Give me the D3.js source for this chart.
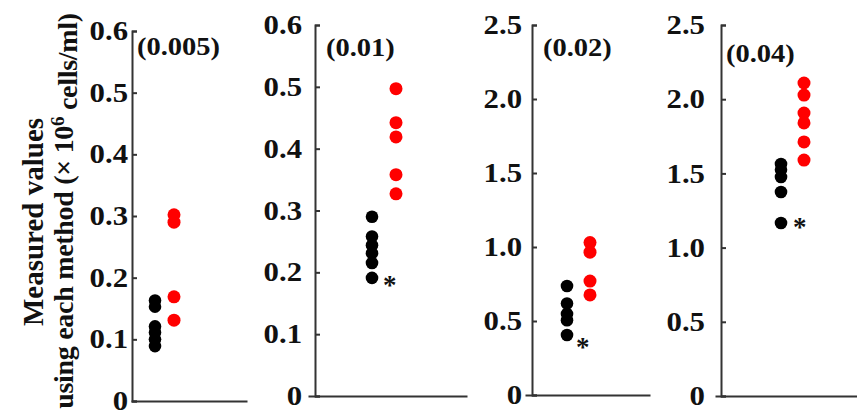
<!DOCTYPE html>
<html>
<head>
<meta charset="utf-8">
<script src="https://cdn.jsdelivr.net/npm/d3@7"></script>
<style>
    body { margin: 0; background: #fff; }
    text { font-family: "Liberation Serif", "Times New Roman", serif; font-weight: bold; fill: #111; }
</style>
</head>
<body>
<div id="chart"></div>
<script>
// dilution of each panel
const dilutions = ["(0.005)", "(0.01)", "(0.02)", "(0.04)"];

// black dots (reference method)
const blackValues = [
    [0.163, 0.153, 0.121, 0.111, 0.100, 0.089],
    [0.290, 0.258, 0.244, 0.231, 0.215, 0.191],
    [0.736, 0.618, 0.548, 0.505, 0.405],
    [1.563, 1.525, 1.476, 1.375, 1.166]
];

// red dots (second method)
const redValues = [
    [0.302, 0.290, 0.169, 0.131],
    [0.497, 0.442, 0.419, 0.358, 0.327],
    [1.030, 0.965, 0.770, 0.676],
    [2.109, 2.028, 1.907, 1.840, 1.712, 1.590]
];

const yMax = [0.6, 0.6, 2.5, 2.5];
const ticksSmall = [0, 0.1, 0.2, 0.3, 0.4, 0.5, 0.6];
const ticksLarge = [0, 0.5, 1.0, 1.5, 2.0, 2.5];
const panelTicks = [ticksSmall, ticksSmall, ticksLarge, ticksLarge];
const showStar = [false, true, true, true];

// layout of each panel (pixels)
const layout = [
    {ax: 132, y0: 401, yTop: 31, xStart: 131, xEnd: 247, dots: [155, 174], gap: 4,  tx: 137, ty: 46, sdx: 0,  sdy: 0},
    {ax: 315, y0: 396, yTop: 25, xStart: 308, xEnd: 467, dots: [372, 396], gap: 13, tx: 326, ty: 47, sdx: 11, sdy: 16},
    {ax: 532, y0: 395, yTop: 25, xStart: 525, xEnd: 650, dots: [567, 590], gap: 10, tx: 543, ty: 47, sdx: 9,  sdy: 21},
    {ax: 721, y0: 396, yTop: 25, xStart: 715, xEnd: 860, dots: [781, 804], gap: 16, tx: 726, ty: 53, sdx: 12, sdy: 13}
];

const width = 857, height = 410;
const stretch = 1.14;   // glyphs in the figure are a bit wide

const svg = d3.select("#chart").append("svg")
    .attr("width", width)
    .attr("height", height);

const fmt = d => d === 0 ? "0" : d3.format(".1f")(d);

dilutions.forEach((label, i) => {
    const L = layout[i];
    const g = svg.append("g");

    const y = d3.scaleLinear()
        .domain([0, yMax[i]])
        .range([L.y0, L.yTop]);

    const x = d3.scalePoint()
        .domain(["black", "red"])
        .range(L.dots);

    // y axis, ticks pointing inward
    const yAxis = d3.axisLeft(y)
        .tickValues(panelTicks[i])
        .tickFormat(fmt)
        .tickSize(-5)
        .tickPadding(L.gap);

    const ya = g.append("g")
        .attr("transform", `translate(${L.ax},0)`)
        .call(yAxis);
    ya.selectAll("path, line").attr("stroke", "#333").attr("stroke-width", 2);
    ya.selectAll("text")
        .attr("fill", "#111")
        .attr("x", -L.gap / stretch)
        .attr("transform", `scale(${stretch},1)`)
        .style("font-size", "27px")
        .style("font-family", "Liberation Serif, serif")
        .style("font-weight", "bold");

    // x axis: plain line, no ticks
    const xLine = d3.scaleLinear().range([L.xStart, L.xEnd]);
    const xa = g.append("g")
        .attr("transform", `translate(0,${L.y0})`)
        .call(d3.axisBottom(xLine).ticks(0).tickSizeOuter(0));
    xa.select("path").attr("stroke", "#333").attr("stroke-width", 2);

    // panel title
    g.append("text")
        .attr("transform", `translate(${L.tx},${L.ty}) scale(${stretch},1)`)
        .attr("dy", "0.35em")
        .style("font-size", "25px")
        .text(label);

    g.selectAll(".black-dot")
        .data(blackValues[i])
        .join("circle")
        .attr("class", "black-dot")
        .attr("cx", x("black"))
        .attr("cy", d => y(d))
        .attr("r", 6.3)
        .attr("fill", "#000");

    g.selectAll(".red-dot")
        .data(redValues[i])
        .join("circle")
        .attr("class", "red-dot")
        .attr("cx", x("red"))
        .attr("cy", d => y(d))
        .attr("r", 6.5)
        .attr("fill", "#ff0000");

    if (showStar[i]) {
        const low = d3.min(blackValues[i]);
        g.append("text")
            .attr("x", x("black") + L.sdx)
            .attr("y", y(low) + L.sdy)
            .style("font-size", "27px")
            .text("*");
    }
});

// y axis title, two lines
const title = svg.append("g")
    .attr("transform", "rotate(-90)");

title.append("text")
    .attr("x", -222)
    .attr("y", 33)
    .attr("dy", "0.35em")
    .attr("text-anchor", "middle")
    .style("font-size", "29px")
    .text("Measured values");

const line2 = title.append("text")
    .attr("x", -211)
    .attr("y", 63)
    .attr("dy", "0.35em")
    .attr("text-anchor", "middle")
    .style("font-size", "28px")
    .style("letter-spacing", "-0.3px");
line2.append("tspan").text("using each method (\u00d7 10");
line2.append("tspan").attr("dy", "-0.45em").style("font-size", "19px").text("6");
line2.append("tspan").attr("dy", "0.45em").text(" cells/ml)");
</script>
</body>
</html>
